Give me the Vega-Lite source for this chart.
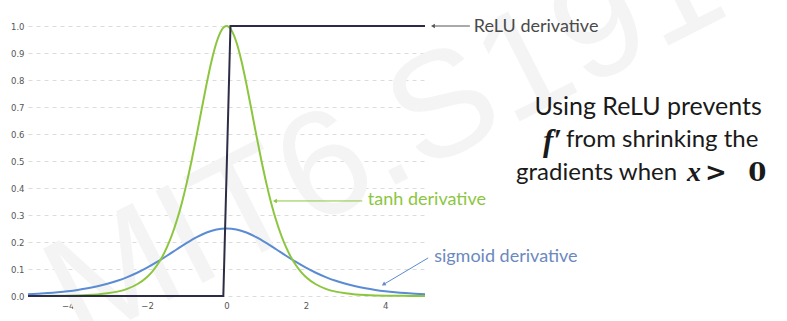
{
  "$schema": "https://vega.github.io/schema/vega-lite/v6.json",
  "width": 397,
  "height": 270,
  "autosize": {"type": "none"},
  "padding": {"left": 28, "top": 26, "right": 362, "bottom": 25},
  "background": "white",
  "config": {"view": {"stroke": null}},
  "datasets": {
    "curves": [
      {"f": "tanh", "x": -5, "y": 0.00018}, {"f": "tanh", "x": -4.75, "y": 0.0003}, {"f": "tanh", "x": -4.5, "y": 0.00049}, {"f": "tanh", "x": -4.25, "y": 0.00081},
      {"f": "tanh", "x": -4, "y": 0.00134}, {"f": "tanh", "x": -3.75, "y": 0.00221}, {"f": "tanh", "x": -3.5, "y": 0.00364}, {"f": "tanh", "x": -3.25, "y": 0.006},
      {"f": "tanh", "x": -3, "y": 0.00987}, {"f": "tanh", "x": -2.75, "y": 0.01621}, {"f": "tanh", "x": -2.5, "y": 0.0266}, {"f": "tanh", "x": -2.25, "y": 0.04346},
      {"f": "tanh", "x": -2, "y": 0.07066}, {"f": "tanh", "x": -1.875, "y": 0.08969}, {"f": "tanh", "x": -1.75, "y": 0.1138}, {"f": "tanh", "x": -1.625, "y": 0.14347},
      {"f": "tanh", "x": -1.5, "y": 0.18071}, {"f": "tanh", "x": -1.375, "y": 0.226}, {"f": "tanh", "x": -1.25, "y": 0.28042}, {"f": "tanh", "x": -1.125, "y": 0.34469},
      {"f": "tanh", "x": -1, "y": 0.41997}, {"f": "tanh", "x": -0.875, "y": 0.50453}, {"f": "tanh", "x": -0.75, "y": 0.59659}, {"f": "tanh", "x": -0.625, "y": 0.69243},
      {"f": "tanh", "x": -0.5, "y": 0.78645}, {"f": "tanh", "x": -0.375, "y": 0.87159}, {"f": "tanh", "x": -0.25, "y": 0.94001}, {"f": "tanh", "x": -0.125, "y": 0.98454},
      {"f": "tanh", "x": 0, "y": 1},
      {"f": "tanh", "x": 0.125, "y": 0.98454}, {"f": "tanh", "x": 0.25, "y": 0.94001}, {"f": "tanh", "x": 0.375, "y": 0.87159}, {"f": "tanh", "x": 0.5, "y": 0.78645},
      {"f": "tanh", "x": 0.625, "y": 0.69243}, {"f": "tanh", "x": 0.75, "y": 0.59659}, {"f": "tanh", "x": 0.875, "y": 0.50453}, {"f": "tanh", "x": 1, "y": 0.41997},
      {"f": "tanh", "x": 1.125, "y": 0.34469}, {"f": "tanh", "x": 1.25, "y": 0.28042}, {"f": "tanh", "x": 1.375, "y": 0.226}, {"f": "tanh", "x": 1.5, "y": 0.18071},
      {"f": "tanh", "x": 1.625, "y": 0.14347}, {"f": "tanh", "x": 1.75, "y": 0.1138}, {"f": "tanh", "x": 1.875, "y": 0.08969}, {"f": "tanh", "x": 2, "y": 0.07066},
      {"f": "tanh", "x": 2.25, "y": 0.04346}, {"f": "tanh", "x": 2.5, "y": 0.0266}, {"f": "tanh", "x": 2.75, "y": 0.01621}, {"f": "tanh", "x": 3, "y": 0.00987},
      {"f": "tanh", "x": 3.25, "y": 0.006}, {"f": "tanh", "x": 3.5, "y": 0.00364}, {"f": "tanh", "x": 3.75, "y": 0.00221}, {"f": "tanh", "x": 4, "y": 0.00134},
      {"f": "tanh", "x": 4.25, "y": 0.00081}, {"f": "tanh", "x": 4.5, "y": 0.00049}, {"f": "tanh", "x": 4.75, "y": 0.0003}, {"f": "tanh", "x": 5, "y": 0.00018},
      {"f": "sigmoid", "x": -5, "y": 0.00665}, {"f": "sigmoid", "x": -4.75, "y": 0.00852}, {"f": "sigmoid", "x": -4.5, "y": 0.01087}, {"f": "sigmoid", "x": -4.25, "y": 0.01392},
      {"f": "sigmoid", "x": -4, "y": 0.01767}, {"f": "sigmoid", "x": -3.75, "y": 0.02242}, {"f": "sigmoid", "x": -3.5, "y": 0.02842}, {"f": "sigmoid", "x": -3.25, "y": 0.03587},
      {"f": "sigmoid", "x": -3, "y": 0.04518}, {"f": "sigmoid", "x": -2.75, "y": 0.0565}, {"f": "sigmoid", "x": -2.5, "y": 0.07011}, {"f": "sigmoid", "x": -2.25, "y": 0.08617},
      {"f": "sigmoid", "x": -2, "y": 0.10499}, {"f": "sigmoid", "x": -1.75, "y": 0.12613}, {"f": "sigmoid", "x": -1.5, "y": 0.14915}, {"f": "sigmoid", "x": -1.25, "y": 0.17311},
      {"f": "sigmoid", "x": -1, "y": 0.19661}, {"f": "sigmoid", "x": -0.75, "y": 0.2179}, {"f": "sigmoid", "x": -0.5, "y": 0.235}, {"f": "sigmoid", "x": -0.25, "y": 0.24614},
      {"f": "sigmoid", "x": 0, "y": 0.25},
      {"f": "sigmoid", "x": 0.25, "y": 0.24614}, {"f": "sigmoid", "x": 0.5, "y": 0.235}, {"f": "sigmoid", "x": 0.75, "y": 0.2179}, {"f": "sigmoid", "x": 1, "y": 0.19661},
      {"f": "sigmoid", "x": 1.25, "y": 0.17311}, {"f": "sigmoid", "x": 1.5, "y": 0.14915}, {"f": "sigmoid", "x": 1.75, "y": 0.12613}, {"f": "sigmoid", "x": 2, "y": 0.10499},
      {"f": "sigmoid", "x": 2.25, "y": 0.08617}, {"f": "sigmoid", "x": 2.5, "y": 0.07011}, {"f": "sigmoid", "x": 2.75, "y": 0.0565}, {"f": "sigmoid", "x": 3, "y": 0.04518},
      {"f": "sigmoid", "x": 3.25, "y": 0.03587}, {"f": "sigmoid", "x": 3.5, "y": 0.02842}, {"f": "sigmoid", "x": 3.75, "y": 0.02242}, {"f": "sigmoid", "x": 4, "y": 0.01767},
      {"f": "sigmoid", "x": 4.25, "y": 0.01392}, {"f": "sigmoid", "x": 4.5, "y": 0.01087}, {"f": "sigmoid", "x": 4.75, "y": 0.00852}, {"f": "sigmoid", "x": 5, "y": 0.00665}
    ],
    "relu": [
      {"x": -5, "y": 0}, {"x": -0.08, "y": 0}, {"x": 0.1, "y": 1}, {"x": 5, "y": 1}
    ],
    "arrows": [
      {"s": "relu", "x": 6.13, "y": 1.0, "x2": 5.2, "y2": 1.0},
      {"s": "tanh", "x": 3.42, "y": 0.352, "x2": 1.22, "y2": 0.352},
      {"s": "sigmoid", "x": 5.08, "y": 0.141, "x2": 3.97, "y2": 0.044}
    ],
    "labels": [
      {"k": "watermark", "x": 4.0, "y": 0.58, "t": "MIT6.S191"},
      {"k": "relu", "x": 6.23, "y": 0.996, "t": "ReLU derivative"},
      {"k": "tanh", "x": 3.56, "y": 0.356, "t": "tanh derivative"},
      {"k": "sigmoid", "x": 5.23, "y": 0.144, "t": "sigmoid derivative"},
      {"k": "center", "x": 10.62, "y": 0.70, "t": "Using ReLU prevents"},
      {"k": "left", "x": 8.55, "y": 0.578, "t": "from shrinking the"},
      {"k": "right", "x": 11.35, "y": 0.456, "t": "gradients when"},
      {"k": "mathR", "x": 8.45, "y": 0.572, "t": "f′"},
      {"k": "mathL", "x": 11.6, "y": 0.456, "t": "x"},
      {"k": "num", "x": 12.05, "y": 0.456, "t": ">"},
      {"k": "num", "x": 13.14, "y": 0.456, "t": "0"}
    ]
  },
  "encoding": {
    "x": {"field": "x", "type": "quantitative", "scale": {"domain": [-5, 5], "nice": false, "zero": false},
      "axis": {"values": [-4, -2, 0, 2, 4], "grid": false, "domain": false, "ticks": false, "labelFontSize": 8.5, "labelColor": "#555", "labelPadding": 5, "labelFont": "DejaVu Sans", "title": null}},
    "y": {"field": "y", "type": "quantitative", "scale": {"domain": [0, 1], "nice": false},
      "axis": {"values": [0, 0.1, 0.2, 0.3, 0.4, 0.5, 0.6, 0.7, 0.8, 0.9, 1.0], "format": ".1f", "labelOverlap": false, "grid": true, "gridColor": "#dcdcdc", "gridDash": [4, 4], "gridWidth": 1, "domain": false, "ticks": false, "labelFontSize": 8.5, "labelColor": "#555", "labelPadding": 4, "labelFont": "DejaVu Sans", "title": null}}
  },
  "layer": [
    {
      "data": {"name": "labels"},
      "transform": [{"filter": "datum.k === 'watermark'"}],
      "mark": {"type": "text", "font": "Liberation Sans", "fontSize": 150, "color": "#f4f4f4", "angle": -27, "align": "center", "baseline": "middle", "clip": false},
      "encoding": {"text": {"field": "t"}}
    },
    {
      "data": {"name": "curves"},
      "transform": [{"filter": "datum.f === 'sigmoid'"}],
      "mark": {"type": "line", "strokeWidth": 2, "interpolate": "monotone", "color": "#5b8bd2"},
      "encoding": {"order": {"field": "x", "type": "quantitative"}}
    },
    {
      "data": {"name": "curves"},
      "transform": [{"filter": "datum.f === 'tanh'"}],
      "mark": {"type": "line", "strokeWidth": 2, "interpolate": "monotone", "color": "#8cc63f"},
      "encoding": {"order": {"field": "x", "type": "quantitative"}}
    },
    {
      "data": {"name": "relu"},
      "mark": {"type": "line", "strokeWidth": 2, "color": "#2d2c46"},
      "encoding": {}
    },
    {
      "data": {"name": "arrows"},
      "transform": [{"filter": "datum.s === 'relu'"}],
      "mark": {"type": "rule", "strokeWidth": 1, "color": "#555555", "clip": false},
      "encoding": {"x2": {"field": "x2"}, "y2": {"field": "y2"}}
    },
    {
      "data": {"name": "arrows"},
      "transform": [{"filter": "datum.s === 'tanh'"}],
      "mark": {"type": "rule", "strokeWidth": 1, "color": "#8cc63f", "clip": false},
      "encoding": {"x2": {"field": "x2"}, "y2": {"field": "y2"}}
    },
    {
      "data": {"name": "arrows"},
      "transform": [{"filter": "datum.s === 'sigmoid'"}],
      "mark": {"type": "rule", "strokeWidth": 1, "color": "#5b8bd2", "clip": false},
      "encoding": {"x2": {"field": "x2"}, "y2": {"field": "y2"}}
    },
    {
      "data": {"name": "arrows"},
      "transform": [{"filter": "datum.s === 'relu'"}],
      "mark": {"type": "point", "shape": "triangle-left", "filled": true, "size": 20, "opacity": 1, "color": "#555555", "clip": false},
      "encoding": {"x": {"field": "x2", "type": "quantitative"}, "y": {"field": "y2", "type": "quantitative"}}
    },
    {
      "data": {"name": "arrows"},
      "transform": [{"filter": "datum.s === 'tanh'"}],
      "mark": {"type": "point", "shape": "triangle-left", "filled": true, "size": 20, "opacity": 1, "color": "#8cc63f", "clip": false},
      "encoding": {"x": {"field": "x2", "type": "quantitative"}, "y": {"field": "y2", "type": "quantitative"}}
    },
    {
      "data": {"name": "arrows"},
      "transform": [{"filter": "datum.s === 'sigmoid'"}],
      "mark": {"type": "point", "shape": "triangle", "angle": 239, "filled": true, "size": 20, "opacity": 1, "color": "#5b8bd2", "clip": false},
      "encoding": {"x": {"field": "x2", "type": "quantitative"}, "y": {"field": "y2", "type": "quantitative"}}
    },
    {
      "data": {"name": "labels"},
      "transform": [{"filter": "datum.k === 'relu'"}],
      "mark": {"type": "text", "font": "Lato", "fontSize": 18, "color": "#4a4a4a", "align": "left", "baseline": "middle", "clip": false},
      "encoding": {"text": {"field": "t"}}
    },
    {
      "data": {"name": "labels"},
      "transform": [{"filter": "datum.k === 'tanh'"}],
      "mark": {"type": "text", "font": "Lato", "fontSize": 18, "color": "#8cc63f", "align": "left", "baseline": "middle", "clip": false},
      "encoding": {"text": {"field": "t"}}
    },
    {
      "data": {"name": "labels"},
      "transform": [{"filter": "datum.k === 'sigmoid'"}],
      "mark": {"type": "text", "font": "Lato", "fontSize": 18, "color": "#6b89bf", "align": "left", "baseline": "middle", "clip": false},
      "encoding": {"text": {"field": "t"}}
    },
    {
      "data": {"name": "labels"},
      "transform": [{"filter": "datum.k === 'center'"}],
      "mark": {"type": "text", "font": "Lato", "fontSize": 25, "color": "#1a1a1a", "align": "center", "baseline": "middle", "clip": false},
      "encoding": {"text": {"field": "t"}}
    },
    {
      "data": {"name": "labels"},
      "transform": [{"filter": "datum.k === 'left'"}],
      "mark": {"type": "text", "font": "Lato", "fontSize": 24, "color": "#1a1a1a", "align": "left", "baseline": "middle", "clip": false},
      "encoding": {"text": {"field": "t"}}
    },
    {
      "data": {"name": "labels"},
      "transform": [{"filter": "datum.k === 'right'"}],
      "mark": {"type": "text", "font": "Lato", "fontSize": 24, "color": "#1a1a1a", "align": "right", "baseline": "middle", "clip": false},
      "encoding": {"text": {"field": "t"}}
    },
    {
      "data": {"name": "labels"},
      "transform": [{"filter": "datum.k === 'mathR'"}],
      "mark": {"type": "text", "font": "Liberation Serif", "fontStyle": "italic", "fontWeight": "bold", "fontSize": 31, "color": "#1a1a1a", "align": "right", "baseline": "middle", "clip": false},
      "encoding": {"text": {"field": "t"}}
    },
    {
      "data": {"name": "labels"},
      "transform": [{"filter": "datum.k === 'mathL'"}],
      "mark": {"type": "text", "font": "Liberation Serif", "fontStyle": "italic", "fontWeight": "bold", "fontSize": 28, "color": "#1a1a1a", "align": "left", "baseline": "middle", "clip": false},
      "encoding": {"text": {"field": "t"}}
    },
    {
      "data": {"name": "labels"},
      "transform": [{"filter": "datum.k === 'num'"}],
      "mark": {"type": "text", "font": "DejaVu Serif", "fontWeight": "bold", "fontSize": 26, "color": "#1a1a1a", "align": "left", "baseline": "middle", "clip": false},
      "encoding": {"text": {"field": "t"}}
    }
  ]
}
